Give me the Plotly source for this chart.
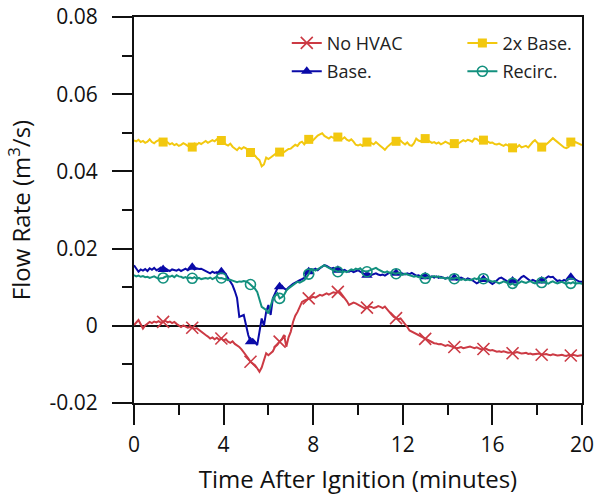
import plotly.graph_objects as go

time_min = [round(i * 0.1, 1) for i in range(201)]

two_x_base = [
    0.0480, 0.0478, 0.0482, 0.0476, 0.0479, 0.0474, 0.0477, 0.0483, 0.0476, 0.0473,
    0.0478, 0.0481, 0.0477, 0.0476, 0.0480, 0.0474, 0.0470, 0.0473, 0.0468, 0.0471,
    0.0466, 0.0469, 0.0473, 0.0470, 0.0466, 0.0468, 0.0463, 0.0472, 0.0469, 0.0474,
    0.0471, 0.0475, 0.0479, 0.0474, 0.0477, 0.0481, 0.0478, 0.0483, 0.0479, 0.0480,
    0.0476, 0.0470, 0.0467, 0.0472, 0.0464, 0.0459, 0.0455, 0.0462, 0.0458, 0.0463,
    0.0460, 0.0452, 0.0449, 0.0446, 0.0441, 0.0434, 0.0429, 0.0413, 0.0418, 0.0436,
    0.0432, 0.0436, 0.0441, 0.0446, 0.0449, 0.0450, 0.0453, 0.0450, 0.0455, 0.0458,
    0.0459, 0.0463, 0.0469, 0.0466, 0.0474, 0.0477, 0.0470, 0.0478, 0.0483, 0.0486,
    0.0481, 0.0488, 0.0493, 0.0496, 0.0499, 0.0492, 0.0489, 0.0485, 0.0490, 0.0487,
    0.0491, 0.0489, 0.0486, 0.0484, 0.0488, 0.0482, 0.0479, 0.0483, 0.0477, 0.0469,
    0.0467, 0.0470, 0.0466, 0.0474, 0.0476, 0.0479, 0.0473, 0.0470, 0.0476, 0.0472,
    0.0466, 0.0461, 0.0456, 0.0463, 0.0468, 0.0473, 0.0471, 0.0478, 0.0476, 0.0480,
    0.0474, 0.0470, 0.0475, 0.0468, 0.0466, 0.0473, 0.0485, 0.0480, 0.0478, 0.0483,
    0.0485, 0.0481, 0.0478, 0.0474, 0.0476, 0.0472, 0.0475, 0.0470, 0.0473, 0.0477,
    0.0474, 0.0471, 0.0476, 0.0472, 0.0468, 0.0473, 0.0477, 0.0481, 0.0478, 0.0482,
    0.0480, 0.0477, 0.0485, 0.0484, 0.0479, 0.0476, 0.0481, 0.0480, 0.0477, 0.0474,
    0.0475, 0.0471, 0.0470, 0.0472, 0.0469, 0.0466, 0.0470, 0.0468, 0.0464, 0.0461,
    0.0460, 0.0463, 0.0468, 0.0462, 0.0465, 0.0466, 0.0462, 0.0470, 0.0476, 0.0481,
    0.0474, 0.0468, 0.0463, 0.0466, 0.0470, 0.0475, 0.0480, 0.0486, 0.0481, 0.0476,
    0.0470, 0.0466, 0.0462, 0.0460, 0.0463, 0.0476, 0.0470, 0.0476, 0.0474, 0.0470,
    0.0468,
]

base = [
    0.0157, 0.0148, 0.0140, 0.0146, 0.0143, 0.0147, 0.0142, 0.0149, 0.0145, 0.0150,
    0.0144, 0.0147, 0.0151, 0.0146, 0.0149, 0.0145, 0.0142, 0.0146, 0.0144, 0.0143,
    0.0146, 0.0142, 0.0145, 0.0148, 0.0144, 0.0147, 0.0152, 0.0146, 0.0149, 0.0147,
    0.0148, 0.0145, 0.0142, 0.0139, 0.0136, 0.0140, 0.0137, 0.0139, 0.0136, 0.0140,
    0.0138, 0.0133, 0.0123, 0.0115, 0.0105, 0.0090, 0.0072, 0.0023, 0.0025, 0.0028,
    0.0002, -0.0024, -0.0041, -0.0035, -0.0041, -0.0050, -0.0016, 0.0019, 0.0000, 0.0036,
    0.0054, 0.0028, 0.0071, 0.0085, 0.0097, 0.0101, 0.0104, 0.0097, 0.0093, 0.0099,
    0.0105, 0.0109, 0.0112, 0.0116, 0.0118, 0.0121, 0.0124, 0.0136, 0.0140, 0.0147,
    0.0145, 0.0148, 0.0144, 0.0149, 0.0153, 0.0157, 0.0155, 0.0151, 0.0148, 0.0150,
    0.0146, 0.0144, 0.0147, 0.0143, 0.0145, 0.0141, 0.0140, 0.0143, 0.0139, 0.0142,
    0.0144, 0.0140, 0.0138, 0.0134, 0.0131, 0.0135, 0.0132, 0.0134, 0.0136, 0.0133,
    0.0131, 0.0133, 0.0130, 0.0134, 0.0137, 0.0135, 0.0138, 0.0136, 0.0134, 0.0137,
    0.0135, 0.0133, 0.0136, 0.0134, 0.0137, 0.0133, 0.0130, 0.0131, 0.0128, 0.0130,
    0.0127, 0.0129, 0.0126, 0.0128, 0.0125, 0.0128, 0.0124, 0.0127, 0.0125, 0.0122,
    0.0125, 0.0123, 0.0121, 0.0124, 0.0120, 0.0123, 0.0125, 0.0122, 0.0119, 0.0123,
    0.0121, 0.0118, 0.0114, 0.0110, 0.0113, 0.0116, 0.0120, 0.0122, 0.0117, 0.0112,
    0.0108, 0.0112, 0.0117, 0.0123, 0.0125, 0.0121, 0.0119, 0.0114, 0.0117, 0.0116,
    0.0118, 0.0114, 0.0120, 0.0126, 0.0129, 0.0124, 0.0121, 0.0116, 0.0119, 0.0117,
    0.0114, 0.0117, 0.0116, 0.0120, 0.0125, 0.0128, 0.0126, 0.0127, 0.0121, 0.0116,
    0.0118, 0.0115, 0.0119, 0.0116, 0.0121, 0.0126, 0.0123, 0.0120, 0.0117, 0.0114,
    0.0114,
]

recirc = [
    0.0131, 0.0128, 0.0130, 0.0127, 0.0129, 0.0126, 0.0127, 0.0124, 0.0126, 0.0128,
    0.0125, 0.0122, 0.0123, 0.0124, 0.0127, 0.0129, 0.0127, 0.0130, 0.0126, 0.0131,
    0.0128, 0.0127, 0.0124, 0.0126, 0.0123, 0.0125, 0.0123, 0.0126, 0.0122, 0.0124,
    0.0121, 0.0123, 0.0124, 0.0122, 0.0125, 0.0121, 0.0124, 0.0127, 0.0123, 0.0124,
    0.0122, 0.0121, 0.0118, 0.0119, 0.0117, 0.0115, 0.0113, 0.0115, 0.0114, 0.0116,
    0.0115, 0.0112, 0.0107, 0.0103, 0.0096, 0.0088, 0.0068, 0.0049, 0.0045, 0.0041,
    0.0032, 0.0050, 0.0070, 0.0078, 0.0084, 0.0071, 0.0074, 0.0080, 0.0091, 0.0097,
    0.0101, 0.0105, 0.0110, 0.0114, 0.0112, 0.0116, 0.0118, 0.0125, 0.0134, 0.0147,
    0.0146, 0.0143, 0.0147, 0.0150, 0.0154, 0.0157, 0.0153, 0.0149, 0.0147, 0.0144,
    0.0143, 0.0140, 0.0142, 0.0138, 0.0141, 0.0139, 0.0142, 0.0146, 0.0144, 0.0148,
    0.0146, 0.0149, 0.0143, 0.0141, 0.0140, 0.0143, 0.0145, 0.0148, 0.0150, 0.0146,
    0.0142, 0.0140, 0.0138, 0.0141, 0.0137, 0.0139, 0.0136, 0.0135, 0.0137, 0.0134,
    0.0132, 0.0135, 0.0133, 0.0130, 0.0128, 0.0127, 0.0129, 0.0126, 0.0128, 0.0125,
    0.0123, 0.0126, 0.0124, 0.0127, 0.0129, 0.0126, 0.0128, 0.0124, 0.0125, 0.0122,
    0.0124, 0.0121, 0.0123, 0.0122, 0.0125, 0.0122, 0.0119, 0.0121, 0.0118, 0.0120,
    0.0118, 0.0120, 0.0123, 0.0121, 0.0124, 0.0120, 0.0122, 0.0121, 0.0119, 0.0117,
    0.0114, 0.0116, 0.0113, 0.0110, 0.0112, 0.0115, 0.0113, 0.0109, 0.0107, 0.0110,
    0.0105, 0.0108, 0.0112, 0.0115, 0.0113, 0.0111, 0.0114, 0.0116, 0.0112, 0.0110,
    0.0113, 0.0115, 0.0112, 0.0114, 0.0111, 0.0109, 0.0113, 0.0115, 0.0112, 0.0110,
    0.0112, 0.0114, 0.0111, 0.0108, 0.0112, 0.0110, 0.0113, 0.0109, 0.0110, 0.0111,
    0.0108,
]

no_hvac = [
    0.0002, 0.0010, 0.0015, 0.0004, -0.0007, 0.0001, 0.0006, 0.0010, 0.0007, 0.0011,
    0.0009, 0.0012, 0.0008, 0.0010, 0.0013, 0.0009, 0.0011, 0.0007, 0.0010, 0.0005,
    0.0002, -0.0003, 0.0001, -0.0002, -0.0005, -0.0003, -0.0005, -0.0008, -0.0006, -0.0011,
    -0.0015, -0.0019, -0.0024, -0.0028, -0.0033, -0.0030, -0.0035, -0.0031, -0.0036, -0.0033,
    -0.0038, -0.0035, -0.0041, -0.0044, -0.0040, -0.0047, -0.0050, -0.0055, -0.0061, -0.0068,
    -0.0076, -0.0084, -0.0093, -0.0097, -0.0102, -0.0110, -0.0119, -0.0108, -0.0088, -0.0071,
    -0.0076, -0.0070, -0.0066, -0.0054, -0.0049, -0.0041, -0.0035, -0.0024, -0.0054, -0.0030,
    -0.0015, 0.0010, 0.0026, 0.0036, 0.0048, 0.0062, 0.0065, 0.0068, 0.0071, 0.0072,
    0.0075, 0.0073, 0.0077, 0.0080, 0.0078, 0.0082, 0.0084, 0.0081, 0.0085, 0.0087,
    0.0085, 0.0088, 0.0087, 0.0080, 0.0072, 0.0064, 0.0054, 0.0057, 0.0060, 0.0058,
    0.0055, 0.0052, 0.0048, 0.0045, 0.0047, 0.0050, 0.0049, 0.0046, 0.0048, 0.0051,
    0.0049, 0.0046, 0.0050, 0.0042, 0.0035, 0.0029, 0.0023, 0.0020, 0.0017, 0.0019,
    0.0012, 0.0006, -0.0003, -0.0012, -0.0015, -0.0018, -0.0021, -0.0024, -0.0027, -0.0030,
    -0.0034, -0.0037, -0.0040, -0.0042, -0.0045, -0.0046, -0.0048, -0.0047, -0.0050, -0.0052,
    -0.0050, -0.0052, -0.0054, -0.0055, -0.0058, -0.0057, -0.0055, -0.0058, -0.0056, -0.0055,
    -0.0054, -0.0056, -0.0058, -0.0056, -0.0059, -0.0061, -0.0060, -0.0059, -0.0062, -0.0064,
    -0.0063, -0.0065, -0.0067, -0.0066, -0.0068, -0.0066, -0.0068, -0.0070, -0.0069, -0.0071,
    -0.0070, -0.0068, -0.0070, -0.0072, -0.0071, -0.0070, -0.0073, -0.0072, -0.0074, -0.0073,
    -0.0074, -0.0072, -0.0075, -0.0074, -0.0073, -0.0075, -0.0076, -0.0074, -0.0075, -0.0077,
    -0.0076, -0.0075, -0.0077, -0.0078, -0.0076, -0.0077, -0.0075, -0.0076, -0.0078, -0.0077,
    -0.0076,
]

x_ticks = [0, 4, 8, 12, 16, 20]
y_ticks = [-0.02, 0, 0.02, 0.04, 0.06, 0.08]
y_tick_labels = ["-0.02", "0", "0.02", "0.04", "0.06", "0.08"]

marker_idx = list(range(13, 201, 13))

FONT = "Open Sans"

series = [
    # name, values, color, symbol, size, legend
    ("No HVAC", no_hvac, "#cc3a44", "x-thin", 12, "legend"),
    ("Base.", base, "#0a0aa8", "triangle-up", 10, "legend"),
    ("2x Base.", two_x_base, "#f2c80f", "square", 9, "legend2"),
    ("Recirc.", recirc, "#12907e", "circle-open", 10, "legend2"),
]

fig = go.Figure()
for name, vals, color, symbol, size, leg in series:
    open_sym = symbol in ("x-thin", "circle-open")
    fig.add_trace(go.Scatter(
        x=time_min, y=vals, name=name, mode="lines+markers",
        line=dict(color=color, width=2),
        marker=dict(symbol=symbol, size=size, color=color,
                    line=dict(color=color, width=1.6 if open_sym else 0)),
        selectedpoints=marker_idx,
        unselected=dict(marker=dict(opacity=0)),
        selected=dict(marker=dict(opacity=1)),
        legend=leg, legendgroup=name,
    ))

axis_common = dict(
    showline=True, linecolor="#111", linewidth=2, mirror=True,
    ticks="outside", ticklen=20, tickwidth=2, tickcolor="#111",
    showgrid=False, automargin=False, ticklabeloverflow="allow",
    tickfont=dict(family=FONT, size=21, color="#111"),
)

fig.update_xaxes(
    range=[0, 20], tickvals=x_ticks, zeroline=False,
    minor=dict(dtick=2, ticks="outside", ticklen=10, tickwidth=2, tickcolor="#111", showgrid=False),
    ticklabelstandoff=2,
    title=dict(text="Time After Ignition (minutes)", font=dict(family=FONT, size=24, color="#111"), standoff=14),
    **axis_common,
)
fig.update_yaxes(
    range=[-0.02, 0.08], tickvals=y_ticks, ticktext=y_tick_labels,
    zeroline=True, zerolinecolor="#111", zerolinewidth=1.5,
    minor=dict(dtick=0.01, ticks="outside", ticklen=10, tickwidth=2, tickcolor="#111", showgrid=False),
    ticklabelstandoff=10,
    title=dict(text="Flow Rate (m<sup>3</sup>/s)", font=dict(family=FONT, size=24, color="#111"), standoff=12),
    **axis_common,
)

legend_common = dict(
    font=dict(family=FONT, size=18, color="#222"),
    bgcolor="rgba(0,0,0,0)", borderwidth=0,
    orientation="v", xanchor="left", yanchor="top",
    tracegroupgap=2,
)

fig.update_layout(
    width=596, height=498,
    margin=dict(l=134, r=14, t=17, b=95),
    plot_bgcolor="white", paper_bgcolor="white",
    legend=dict(x=0.341, y=0.98, **legend_common),
    legend2=dict(x=0.733, y=0.98, **legend_common),
    font=dict(family=FONT, color="#111"),
)

# Remove the default page margin so the figure fills the window exactly.
fig.write_html(
    "out.html",
    config={"displayModeBar": False},
    post_script="document.body.style.margin='0px';document.body.style.overflow='hidden';",
)
